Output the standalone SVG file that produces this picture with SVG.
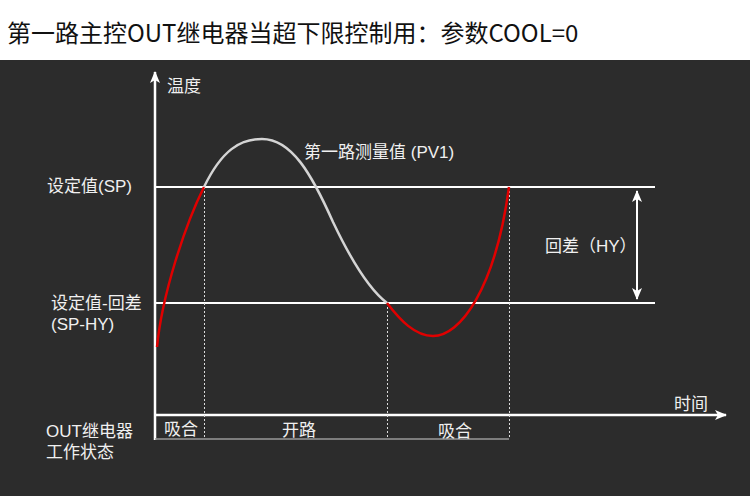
<svg xmlns="http://www.w3.org/2000/svg" width="750" height="496" viewBox="0 0 750 496">
<style>
.t{font-family:"Liberation Sans","Noto Sans CJK SC",sans-serif;fill:#f0f0f0;font-size:17px}
.title{font-family:"Noto Sans CJK SC","Liberation Sans",sans-serif;fill:#111;font-size:24px}
.ax{stroke:#fff;stroke-width:2.5;fill:none}
.hl{stroke:#fff;stroke-width:2;fill:none}
.dash{stroke:#ddd;stroke-width:1;stroke-dasharray:2,2;fill:none}
.red{stroke:#e00000;stroke-width:2.5;fill:none}
.gray{stroke:#d4d4d4;stroke-width:2.5;fill:none}
</style>
<defs>
<marker id="ah" viewBox="0 0 12 10" refX="11" refY="5" markerWidth="12" markerHeight="10" markerUnits="userSpaceOnUse" orient="auto-start-reverse">
<path d="M0,0 L12,5 L0,10 L3,5 Z" fill="#fff"/>
</marker>
</defs>
<rect x="0" y="0" width="750" height="60" fill="#fff"/>
<rect x="0" y="60" width="750" height="436" fill="#2c2c2c"/>
<text class="title" x="7" y="42">第一路主控OUT继电器当超下限控制用：参数COOL=0</text>
<g id="connectors">
<line class="ax" x1="155" y1="440" x2="155" y2="72" marker-end="url(#ah)"/>
<line class="ax" x1="155" y1="415" x2="726" y2="415" marker-end="url(#ah)"/>
<line class="hl" x1="155" y1="187" x2="655" y2="187"/>
<line class="hl" x1="155" y1="303" x2="655" y2="303"/>
<line x1="155" y1="439" x2="509" y2="439" stroke="#999" stroke-width="1.5"/>
<line class="dash" x1="204.5" y1="187" x2="204.5" y2="439"/>
<line class="dash" x1="387.5" y1="303" x2="387.5" y2="439"/>
<line class="dash" x1="509.5" y1="187" x2="509.5" y2="439"/>
<line class="hl" x1="637" y1="191" x2="637" y2="299" marker-start="url(#ah)" marker-end="url(#ah)"/>
</g>
<g id="curve">
<path class="red" d="M157,347 C162,295 185,225 204,187"/>
<path class="gray" d="M204,187 C222,150 240,139 262,139 C292,139 312,175 333,222 C352,262 370,290 387,303"/>
<path class="red" d="M387,303 C400,320 415,336 433,336 C460,336 495,290 509,187"/>
</g>
<g id="labels">
<text class="t" x="167" y="92">温度</text>
<text class="t" x="132" y="192" text-anchor="end">设定值(SP)</text>
<text class="t" x="51" y="309">设定值-回差</text>
<text class="t" x="51" y="330">(SP-HY)</text>
<text class="t" x="46" y="437">OUT继电器</text>
<text class="t" x="46" y="458">工作状态</text>
<text class="t" x="181" y="435" text-anchor="middle">吸合</text>
<text class="t" x="299" y="436" text-anchor="middle">开路</text>
<text class="t" x="455" y="437" text-anchor="middle">吸合</text>
<text class="t" x="674" y="410">时间</text>
<text class="t" x="304" y="158">第一路测量值 (PV1)</text>
<text class="t" x="545" y="252">回差（HY）</text>
</g>
</svg>
